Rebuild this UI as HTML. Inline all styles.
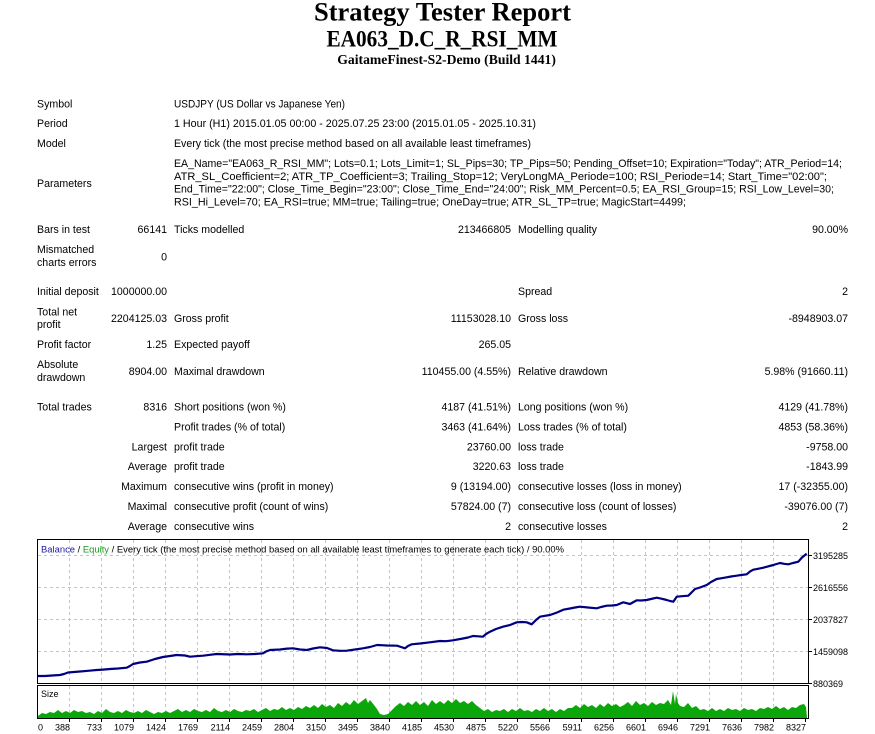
<!DOCTYPE html>
<html>
<head>
<meta charset="utf-8">
<style>
html,body{margin:0;padding:0;background:#fff;}
body{width:875px;height:734px;overflow:hidden;}
svg{display:block;}
.t{font-family:"Liberation Sans",sans-serif;font-size:10.6px;fill:#000;}
.c{font-family:"Liberation Sans",sans-serif;font-size:9px;fill:#000;}
.h{font-family:"Liberation Serif",serif;font-weight:bold;fill:#000;}
</style>
</head>
<body>
<svg width="875" height="734" viewBox="0 0 875 734" xmlns="http://www.w3.org/2000/svg">
<rect x="0" y="0" width="875" height="734" fill="#fff"/>

<!-- Titles -->
<text class="h" x="442.5" y="20.7" font-size="26" text-anchor="middle" textLength="257" lengthAdjust="spacingAndGlyphs">Strategy Tester Report</text>
<text class="h" x="442" y="46.7" font-size="23" text-anchor="middle" textLength="231" lengthAdjust="spacingAndGlyphs">EA063_D.C_R_RSI_MM</text>
<text class="h" x="446.6" y="64" font-size="14" text-anchor="middle" textLength="218.7" lengthAdjust="spacingAndGlyphs">GaitameFinest-S2-Demo (Build 1441)</text>

<!-- Header info -->
<text class="t" x="37" y="107.5">Symbol</text>
<text class="t" x="174" y="107.5" textLength="171" lengthAdjust="spacingAndGlyphs">USDJPY (US Dollar vs Japanese Yen)</text>
<text class="t" x="37" y="127">Period</text>
<text class="t" x="174" y="127" textLength="362" lengthAdjust="spacingAndGlyphs">1 Hour (H1) 2015.01.05 00:00 - 2025.07.25 23:00 (2015.01.05 - 2025.10.31)</text>
<text class="t" x="37" y="147">Model</text>
<text class="t" x="174" y="147" textLength="357" lengthAdjust="spacingAndGlyphs">Every tick (the most precise method based on all available least timeframes)</text>
<text class="t" x="37" y="187">Parameters</text>
<text class="t" x="174" y="167" textLength="668" lengthAdjust="spacingAndGlyphs">EA_Name="EA063_R_RSI_MM"; Lots=0.1; Lots_Limit=1; SL_Pips=30; TP_Pips=50; Pending_Offset=10; Expiration="Today"; ATR_Period=14;</text>
<text class="t" x="174" y="179.8" textLength="653" lengthAdjust="spacingAndGlyphs">ATR_SL_Coefficient=2; ATR_TP_Coefficient=3; Trailing_Stop=12; VeryLongMA_Periode=100; RSI_Periode=14; Start_Time="02:00";</text>
<text class="t" x="174" y="192.6" textLength="660" lengthAdjust="spacingAndGlyphs">End_Time="22:00"; Close_Time_Begin="23:00"; Close_Time_End="24:00"; Risk_MM_Percent=0.5; EA_RSI_Group=15; RSI_Low_Level=30;</text>
<text class="t" x="174" y="205.5" textLength="512" lengthAdjust="spacingAndGlyphs">RSI_Hi_Level=70; EA_RSI=true; MM=true; Tailing=true; OneDay=true; ATR_SL_TP=true; MagicStart=4499;</text>

<!-- Stats -->
<text class="t" x="37" y="233">Bars in test</text>
<text class="t" x="167" y="233" text-anchor="end">66141</text>
<text class="t" x="174" y="233">Ticks modelled</text>
<text class="t" x="511" y="233" text-anchor="end">213466805</text>
<text class="t" x="518" y="233">Modelling quality</text>
<text class="t" x="848" y="233" text-anchor="end">90.00%</text>

<text class="t" x="37" y="253">Mismatched</text>
<text class="t" x="37" y="266">charts errors</text>
<text class="t" x="167" y="260.5" text-anchor="end">0</text>

<text class="t" x="37" y="295">Initial deposit</text>
<text class="t" x="167" y="295" text-anchor="end">1000000.00</text>
<text class="t" x="518" y="295">Spread</text>
<text class="t" x="848" y="295" text-anchor="end">2</text>

<text class="t" x="37" y="315.5">Total net</text>
<text class="t" x="37" y="328">profit</text>
<text class="t" x="167" y="322" text-anchor="end">2204125.03</text>
<text class="t" x="174" y="322">Gross profit</text>
<text class="t" x="511" y="322" text-anchor="end">11153028.10</text>
<text class="t" x="518" y="322">Gross loss</text>
<text class="t" x="848" y="322" text-anchor="end">-8948903.07</text>

<text class="t" x="37" y="348">Profit factor</text>
<text class="t" x="167" y="348" text-anchor="end">1.25</text>
<text class="t" x="174" y="348">Expected payoff</text>
<text class="t" x="511" y="348" text-anchor="end">265.05</text>

<text class="t" x="37" y="368">Absolute</text>
<text class="t" x="37" y="381">drawdown</text>
<text class="t" x="167" y="375" text-anchor="end">8904.00</text>
<text class="t" x="174" y="375">Maximal drawdown</text>
<text class="t" x="511" y="375" text-anchor="end">110455.00 (4.55%)</text>
<text class="t" x="518" y="375">Relative drawdown</text>
<text class="t" x="848" y="375" text-anchor="end">5.98% (91660.11)</text>

<text class="t" x="37" y="410.3">Total trades</text>
<text class="t" x="167" y="410.3" text-anchor="end">8316</text>
<text class="t" x="174" y="410.3">Short positions (won %)</text>
<text class="t" x="511" y="410.3" text-anchor="end">4187 (41.51%)</text>
<text class="t" x="518" y="410.3">Long positions (won %)</text>
<text class="t" x="848" y="410.3" text-anchor="end">4129 (41.78%)</text>

<text class="t" x="174" y="430.4">Profit trades (% of total)</text>
<text class="t" x="511" y="430.4" text-anchor="end">3463 (41.64%)</text>
<text class="t" x="518" y="430.4">Loss trades (% of total)</text>
<text class="t" x="848" y="430.4" text-anchor="end">4853 (58.36%)</text>

<text class="t" x="167" y="450.4" text-anchor="end">Largest</text>
<text class="t" x="174" y="450.4">profit trade</text>
<text class="t" x="511" y="450.4" text-anchor="end">23760.00</text>
<text class="t" x="518" y="450.4">loss trade</text>
<text class="t" x="848" y="450.4" text-anchor="end">-9758.00</text>

<text class="t" x="167" y="469.8" text-anchor="end">Average</text>
<text class="t" x="174" y="469.8">profit trade</text>
<text class="t" x="511" y="469.8" text-anchor="end">3220.63</text>
<text class="t" x="518" y="469.8">loss trade</text>
<text class="t" x="848" y="469.8" text-anchor="end">-1843.99</text>

<text class="t" x="167" y="489.8" text-anchor="end">Maximum</text>
<text class="t" x="174" y="489.8">consecutive wins (profit in money)</text>
<text class="t" x="511" y="489.8" text-anchor="end">9 (13194.00)</text>
<text class="t" x="518" y="489.8">consecutive losses (loss in money)</text>
<text class="t" x="848" y="489.8" text-anchor="end">17 (-32355.00)</text>

<text class="t" x="167" y="509.8" text-anchor="end">Maximal</text>
<text class="t" x="174" y="509.8">consecutive profit (count of wins)</text>
<text class="t" x="511" y="509.8" text-anchor="end">57824.00 (7)</text>
<text class="t" x="518" y="509.8">consecutive loss (count of losses)</text>
<text class="t" x="848" y="509.8" text-anchor="end">-39076.00 (7)</text>

<text class="t" x="167" y="529.8" text-anchor="end">Average</text>
<text class="t" x="174" y="529.8">consecutive wins</text>
<text class="t" x="511" y="529.8" text-anchor="end">2</text>
<text class="t" x="518" y="529.8">consecutive losses</text>
<text class="t" x="848" y="529.8" text-anchor="end">2</text>

<!-- Chart grid -->
<g stroke="#c4c4c4" stroke-width="1" stroke-dasharray="3 3" fill="none">
  <path d="M38 555.5H808M38 587.5H808M38 619.5H808M38 651.5H808"/>
  <path d="M69.5 540V683M101.5 540V683M133.5 540V683M165.5 540V683M197.5 540V683M229.5 540V683M261.5 540V683M293.5 540V683M325.5 540V683M357.5 540V683M389.5 540V683M421.5 540V683M453.5 540V683M485.5 540V683M517.5 540V683M549.5 540V683M581.5 540V683M613.5 540V683M645.5 540V683M677.5 540V683M709.5 540V683M741.5 540V683M773.5 540V683"/>
  <path d="M69.5 686V718M101.5 686V718M133.5 686V718M165.5 686V718M197.5 686V718M229.5 686V718M261.5 686V718M293.5 686V718M325.5 686V718M357.5 686V718M389.5 686V718M421.5 686V718M453.5 686V718M485.5 686V718M517.5 686V718M549.5 686V718M581.5 686V718M613.5 686V718M645.5 686V718M677.5 686V718M709.5 686V718M741.5 686V718M773.5 686V718"/>
</g>

<!-- Histogram -->
<polygon fill="#0aa60a" points="38,718 38,716 42,713 46,714 50,712 54,713 58,710 62,713 66,711 70,713 74,710 78,712 82,711 86,713 90,712 94,714 98,711 102,713 106,709 110,712 114,713 118,711 122,713 126,710 130,712 134,713 138,711 142,713 146,710 150,712 154,714 158,712 162,713 166,711 170,713 174,711 178,709 182,712 186,710 190,712 194,709 198,711 202,712 206,710 210,712 214,708 218,711 222,712 226,710 230,712 234,709 238,711 242,712 246,710 250,711 254,709 258,712 262,710 266,708 270,711 274,709 278,710 282,707 286,710 290,708 294,710 298,707 302,709 306,706 310,708 314,705 318,708 322,704 326,707 330,705 334,708 338,703 342,706 346,702 350,705 354,700 358,704 362,701 366,698 368,703 370,700 374,705 377,709 380,714 384,715 388,714 392,710 396,706 400,703 404,706 408,702 412,705 416,701 420,705 424,702 428,706 432,700 436,704 440,701 444,704 448,700 452,703 456,699 460,703 464,701 468,704 472,701 476,705 480,708 484,711 488,709 492,712 496,710 500,711 504,709 508,712 512,709 516,711 520,708 524,711 528,710 532,712 536,709 540,711 544,708 548,711 552,709 556,712 560,709 564,711 568,708 572,708 576,705 580,708 584,704 588,707 592,705 596,708 600,704 604,707 608,703 612,706 616,704 620,707 624,705 628,702 632,706 636,701 640,705 644,703 648,706 652,702 656,705 660,703 664,704 668,700 671,705 673,691 675,704 676,694 678,703 680,706 684,707 688,703 692,708 696,706 700,710 704,709 708,711 712,708 716,711 720,709 724,711 728,708 732,710 736,709 740,711 744,708 748,710 752,709 756,711 760,708 764,709 768,707 772,709 776,706 780,709 784,707 788,710 792,707 796,708 800,705 804,704 806,707 807,718"/>

<!-- Balance line -->
<polyline fill="none" stroke="#000080" stroke-width="2.2" stroke-linejoin="round" points="37,676 45,676 52,675.5 60,675 64,674 68,672.5 74,672 80,671.5 88,670.8 96.7,670 103,669.6 110,669 118,668.5 126.7,667.7 130,666 133,664 140,662.5 146.7,661.7 155,659 163,657 170,656 176.7,655 185,655.5 190,656.7 196,656.2 203,655.7 210,654.8 216.7,654 230,654.5 238,654 246.7,654.3 255,654 263,653.3 266,651.5 270,650 280,649.5 287,648.6 293,648.3 300,649.5 307,650 313,648.5 320,647.3 327,648 333,650.3 340,650.8 346.7,650.7 355,649.5 363,648.3 370,647 377,645 387,645.5 397,645.7 401,647 405,648.3 408,646 411.7,644.3 420,643.5 430,642.3 440,641 446,641.2 453,640.3 463,638.5 468,637.5 473,636 478,636.3 483,636.7 486,634 490,631.7 496,629 503,626.7 510,625 516.7,622.3 522,622 526.7,622.3 531.7,624.3 536,620 540,616.7 545,615.8 550,615 557,612.5 563.3,609.7 570,608.5 575,607.5 580,606.7 588,607.5 596.7,608.3 601,607 606.7,605.7 612,605.5 616.7,605 623.3,602.3 630,604 636.7,600.3 641,600.5 646.7,600 651,599 656.7,597.7 662,598.8 666.7,600 670,601 673.3,601.7 676.7,596.7 682,596.2 688.3,595.7 692,592 695,589 700,587.5 706.7,585 711,582 716.7,579 721,578.3 726.7,577.3 731,576.5 736.7,575.7 741,575 746.7,574.3 750,571.5 753.3,569.7 758,568.8 763.3,567.7 768,566.4 773.3,565 780,563 784,563.8 788.3,564.3 793,563 798.3,561.7 802,557.5 806.7,553.7"/>

<!-- Frames -->
<g fill="none" stroke="#000" stroke-width="1">
  <rect x="37.5" y="539.5" width="771" height="144"/>
  <rect x="37.5" y="685.5" width="771" height="33"/>
  <path d="M808.5 555.5H812M808.5 587.5H812M808.5 619.5H812M808.5 651.5H812M808.5 683.5H812"/>
  <path d="M69.5 719V722M101.5 719V722M133.5 719V722M165.5 719V722M197.5 719V722M229.5 719V722M261.5 719V722M293.5 719V722M325.5 719V722M357.5 719V722M389.5 719V722M421.5 719V722M453.5 719V722M485.5 719V722M517.5 719V722M549.5 719V722M581.5 719V722M613.5 719V722M645.5 719V722M677.5 719V722M709.5 719V722M741.5 719V722M773.5 719V722M805.5 719V722"/>
</g>

<!-- Chart header -->
<text class="c" x="41" y="552.5" font-size="9.4" textLength="523" lengthAdjust="spacingAndGlyphs"><tspan fill="#1c1c9c">Balance</tspan> / <tspan fill="#1a9a1a">Equity</tspan> / Every tick (the most precise method based on all available least timeframes to generate each tick) / 90.00%</text>
<text class="c" x="41" y="697">Size</text>

<!-- Y labels -->
<text class="c" x="813" y="559">3195285</text>
<text class="c" x="813" y="591">2616556</text>
<text class="c" x="813" y="623">2037827</text>
<text class="c" x="813" y="655">1459098</text>
<text class="c" x="813" y="687">880369</text>

<!-- X labels -->
<g class="c" text-anchor="end">
<text x="43" y="730.5">0</text>
<text x="70" y="730.5">388</text>
<text x="102" y="730.5">733</text>
<text x="134" y="730.5">1079</text>
<text x="166" y="730.5">1424</text>
<text x="198" y="730.5">1769</text>
<text x="230" y="730.5">2114</text>
<text x="262" y="730.5">2459</text>
<text x="294" y="730.5">2804</text>
<text x="326" y="730.5">3150</text>
<text x="358" y="730.5">3495</text>
<text x="390" y="730.5">3840</text>
<text x="422" y="730.5">4185</text>
<text x="454" y="730.5">4530</text>
<text x="486" y="730.5">4875</text>
<text x="518" y="730.5">5220</text>
<text x="550" y="730.5">5566</text>
<text x="582" y="730.5">5911</text>
<text x="614" y="730.5">6256</text>
<text x="646" y="730.5">6601</text>
<text x="678" y="730.5">6946</text>
<text x="710" y="730.5">7291</text>
<text x="742" y="730.5">7636</text>
<text x="774" y="730.5">7982</text>
<text x="806" y="730.5">8327</text>
</g>
</svg>
</body>
</html>
